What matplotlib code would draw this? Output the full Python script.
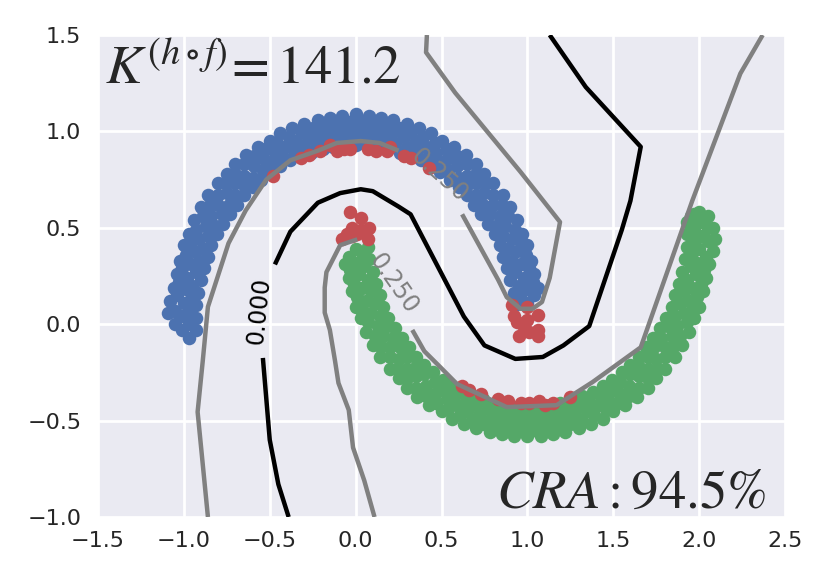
import numpy as np
import matplotlib
matplotlib.use("Agg")
import matplotlib.pyplot as plt

blue_points = [
(.93,.10),(.92,.16),(.90,.23),(.88,.29),(.86,.35),(.84,.41),(.81,.47),(.77,.52),(.73,.57),(.69,.62),(.65,.67),(.60,.71),(.55,.75),(.49,.79),(.44,.82),(.38,.85),(.32,.87),(.26,.89),(.19,.91),(.13,.92),(.06,.93),(0,.93),
(-.06,.93),(-.13,.92),(-.19,.91),(-.26,.89),(-.32,.87),(-.38,.85),(-.44,.82),(-.49,.79),(-.55,.75),(-.60,.71),(-.65,.67),(-.69,.62),(-.73,.57),(-.77,.52),(-.81,.47),(-.84,.41),(-.86,.35),(-.88,.29),(-.90,.23),(-.92,.16),(-.93,.10),(-.93,.03),(-.93,-.03),
(.96,.13),(.95,.20),(.93,.27),(.91,.33),(.89,.39),(.86,.46),(.82,.51),(.78,.57),(.74,.62),(.70,.67),(.65,.72),(.60,.76),(.54,.80),(.49,.84),(.43,.87),(.36,.90),(.30,.92),(.23,.94),(.17,.96),(.10,.96),(.03,.97),
(-.03,.97),(-.10,.96),(-.17,.96),(-.23,.94),(-.30,.92),(-.36,.90),(-.43,.87),(-.49,.84),(-.54,.80),(-.60,.76),(-.65,.72),(-.70,.67),(-.74,.62),(-.78,.57),(-.82,.51),(-.86,.46),(-.89,.39),(-.91,.33),(-.93,.27),(-.95,.20),(-.96,.13),(-.97,.07),(-.97,0),(-.97,-.07),
(1.00,.11),(.99,.18),(.98,.24),(.96,.31),(.94,.38),(.91,.44),(.87,.51),(.84,.56),(.80,.62),(.75,.68),(.70,.73),(.65,.77),(.59,.82),(.54,.86),(.47,.89),(.41,.92),(.35,.95),(.28,.97),(.21,.99),(.14,1.00),(.07,1.01),(0,1.01),
(-.07,1.01),(-.14,1.00),(-.21,.99),(-.28,.97),(-.35,.95),(-.41,.92),(-.47,.89),(-.54,.86),(-.59,.82),(-.65,.77),(-.70,.73),(-.75,.68),(-.80,.62),(-.84,.56),(-.87,.51),(-.91,.44),(-.94,.38),(-.96,.31),(-.98,.24),(-.99,.18),(-1.00,.11),(-1.01,.04),(-1.01,-.03),
(1.04,.15),(1.03,.22),(1.01,.29),(.99,.36),(.96,.43),(.93,.49),(.89,.56),(.85,.62),(.80,.67),(.76,.73),(.70,.78),(.65,.83),(.59,.87),(.53,.91),(.46,.94),(.39,.97),(.32,1.00),(.25,1.02),(.18,1.03),(.11,1.04),(.04,1.05),
(-.04,1.05),(-.11,1.04),(-.18,1.03),(-.25,1.02),(-.32,1.00),(-.39,.97),(-.46,.94),(-.53,.91),(-.59,.87),(-.65,.83),(-.70,.78),(-.76,.73),(-.80,.67),(-.85,.62),(-.89,.56),(-.93,.49),(-.96,.43),(-.99,.36),(-1.01,.29),(-1.03,.22),(-1.04,.15),(-1.05,.07),(-1.05,0),
(1.06,.19),(1.04,.26),(1.02,.33),(1.00,.41),(.97,.47),(.94,.54),(.90,.61),(.86,.67),(.80,.73),(.75,.78),(.70,.83),(.64,.88),(.57,.92),(.50,.95),(.44,.99),(.37,1.02),(.30,1.04),(.22,1.06),(.15,1.07),(.08,1.08),(0,1.09),
(-.08,1.08),(-.15,1.07),(-.22,1.06),(-.30,1.04),(-.37,1.02),(-.44,.99),(-.50,.95),(-.57,.92),(-.64,.88),(-.70,.83),(-.75,.78),(-.80,.73),(-.86,.67),(-.90,.61),(-.94,.54),(-.97,.47),(-1.00,.41),(-1.02,.33),(-1.04,.26),(-1.06,.19),(-1.08,.12),(-1.09,.06),
]
green_points = [
(.07,.40),(.08,.34),(.10,.27),(.12,.21),(.14,.15),(.16,.09),(.19,.03),(.23,-.02),(.27,-.07),(.31,-.12),(.35,-.17),(.40,-.21),(.45,-.25),(.51,-.29),(.56,-.32),(.62,-.35),(.68,-.37),(.74,-.39),(.81,-.41),(.87,-.42),(.94,-.43),(1.00,-.43),(1.06,-.43),(1.13,-.42),(1.19,-.41),(1.26,-.39),(1.32,-.37),(1.38,-.35),(1.44,-.32),(1.49,-.29),(1.55,-.25),(1.60,-.21),(1.65,-.17),(1.69,-.12),(1.73,-.07),(1.77,-.02),(1.81,.03),(1.84,.09),(1.86,.15),(1.88,.21),(1.90,.27),(1.92,.34),(1.93,.40),(1.93,.47),(1.93,.53),
(.04,.37),(.05,.30),(.07,.23),(.09,.17),(.11,.11),(.14,.04),(.18,-.01),(.22,-.07),(.26,-.12),(.30,-.17),(.35,-.22),(.40,-.26),(.46,-.30),(.51,-.34),(.57,-.37),(.64,-.40),(.70,-.42),(.77,-.44),(.83,-.46),(.90,-.46),(.97,-.47),(1.03,-.47),(1.10,-.46),(1.17,-.46),(1.23,-.44),(1.30,-.42),(1.36,-.40),(1.43,-.37),(1.49,-.34),(1.54,-.30),(1.60,-.26),(1.65,-.22),(1.70,-.17),(1.74,-.12),(1.78,-.07),(1.82,-.01),(1.86,.04),(1.89,.11),(1.91,.17),(1.93,.23),(1.95,.30),(1.96,.37),(1.97,.43),(1.97,.50),(1.97,.57),
(0,.39),(.01,.32),(.02,.26),(.04,.19),(.06,.12),(.09,.06),(.13,-.01),(.16,-.06),(.20,-.12),(.25,-.18),(.30,-.23),(.35,-.27),(.41,-.32),(.46,-.36),(.53,-.39),(.59,-.42),(.65,-.45),(.72,-.47),(.79,-.49),(.86,-.50),(.93,-.51),(1.00,-.51),(1.07,-.51),(1.14,-.50),(1.21,-.49),(1.28,-.47),(1.35,-.45),(1.41,-.42),(1.47,-.39),(1.54,-.36),(1.59,-.32),(1.65,-.27),(1.70,-.23),(1.75,-.18),(1.80,-.12),(1.84,-.06),(1.87,-.01),(1.91,.06),(1.94,.12),(1.96,.19),(1.98,.26),(1.99,.32),(2.00,.39),(2.01,.46),(2.01,.53),
(-.04,.35),(-.03,.28),(-.01,.21),(.01,.14),(.04,.07),(.07,.01),(.11,-.06),(.15,-.12),(.20,-.17),(.24,-.23),(.30,-.28),(.35,-.33),(.41,-.37),(.47,-.41),(.54,-.44),(.61,-.47),(.68,-.50),(.75,-.52),(.82,-.53),(.89,-.54),(.96,-.55),(1.04,-.55),(1.11,-.54),(1.18,-.53),(1.25,-.52),(1.32,-.50),(1.39,-.47),(1.46,-.44),(1.53,-.41),(1.59,-.37),(1.65,-.33),(1.70,-.28),(1.76,-.23),(1.80,-.17),(1.85,-.12),(1.89,-.06),(1.93,.01),(1.96,.07),(1.99,.14),(2.01,.21),(2.03,.28),(2.04,.35),(2.05,.43),(2.05,.50),
(-.06,.31),(-.04,.24),(-.02,.17),(0,.09),(.03,.03),(.06,-.04),(.10,-.11),(.14,-.17),(.20,-.23),(.25,-.28),(.30,-.33),(.36,-.38),(.43,-.42),(.50,-.45),(.56,-.49),(.63,-.52),(.70,-.54),(.78,-.56),(.85,-.57),(.92,-.58),(1.00,-.58),(1.08,-.58),(1.15,-.57),(1.22,-.56),(1.30,-.54),(1.37,-.52),(1.44,-.49),(1.50,-.45),(1.57,-.42),(1.64,-.38),(1.70,-.33),(1.75,-.28),(1.80,-.23),(1.86,-.17),(1.90,-.11),(1.94,-.04),(1.97,.03),(2.00,.09),(2.02,.17),(2.04,.24),(2.06,.31),(2.08,.38),(2.09,.44),(2.08,.50),(2.05,.56),(2.00,.58),(1.95,.56),
]
red_points = [
(-.48,.77),(-.32,.86),(-.27,.88),(-.21,.90),(-.15,.93),(-.11,.90),(-.07,.91),(-.03,.91),(.07,.91),(.12,.90),(.18,.90),(.20,.92),(.28,.87),(.32,.86),(.43,.81),
(-.03,.58),(.03,.55),(.08,.50),(-.02,.50),(-.05,.47),(.03,.49),(-.08,.44),(.07,.44),(.01,.47),(-.02,.46),
(.91,.10),(1.00,.09),(.92,.04),(1.06,.05),(1.00,.02),(.94,.01),(.97,0),(1.06,-.03),(1.01,-.04),(.95,-.06),(1.06,-.06),
(.62,-.32),(.66,-.34),(.73,-.36),(.83,-.39),(.89,-.40),(.96,-.41),(1.01,-.41),(1.07,-.40),(1.10,-.42),(1.15,-.41),(1.25,-.38),
]
black_upper = [(-.47,.31),(-.38,.48),(-.22,.63),(-.09,.68),(.03,.70),(.10,.69),(.25,.61),(.32,.57),(.63,.04),(.75,-.11),(.93,-.18),(1.09,-.17),(1.21,-.11),(1.36,-.01),(1.55,.49),(1.60,.64),(1.66,.92),(1.34,1.23),(1.13,1.50)]
black_lower = [(-.54,-.175),(-.50,-.60),(-.45,-.83),(-.39,-1.0)]
gray_a1 = [(.415,1.5),(.41,1.41),(.58,1.2),(.96,.79),(1.19,.53),(1.13,.24),(1.085,.115),(1.03,.08),(.96,.08),(.88,.14),(.83,.23),(.62,.57)]
gray_a2 = [(.25,.90),(.14,.94),(.03,.95),(-.11,.94),(-.22,.90),(-.38,.85),(-.52,.75),(-.64,.59),(-.74,.42),(-.86,.09),(-.89,-.19),(-.92,-.455),(-.86,-1.0)]
gray_b1 = [(.01,.44),(-.09,.41),(-.17,.27),(-.18,.19),(-.18,.06),(-.15,-.03),(-.12,-.19),(-.10,-.305),(-.04,-.445),(-.015,-.64),(.05,-.81),(.11,-1.0)]
gray_b2 = [(.33,-.03),(.40,-.14),(.49,-.22),(.59,-.31),(.88,-.43),(1.17,-.42),(1.38,-.30),(1.66,-.12),(1.96,.64),(2.24,1.30),(2.37,1.5)]
x_ticks = [-1.5,-1.0,-0.5,0.0,0.5,1.0,1.5,2.0,2.5]
y_ticks = [-1.0,-0.5,0.0,0.5,1.0,1.5]

plt.rcParams['mathtext.fontset'] = 'stix'
fig = plt.figure(figsize=(8.3,5.81), dpi=100)
ax = fig.add_axes([98/830, (581-517)/581, (785-98)/830, (517-35)/581])
ax.set_facecolor('#EAEAF2')
ax.grid(True, color='white', lw=2.0)
ax.set_axisbelow(True)
for s in ax.spines.values():
    s.set_visible(False)
ax.tick_params(axis='both', length=0, labelsize=16, labelcolor='#262626')
ax.tick_params(axis='x', pad=10)
ax.tick_params(axis='y', pad=12)

def xy(p):
    a = np.array(p, dtype=float)
    return a[:,0], a[:,1]

for pts, c in [(blue_points,'#4C72B0'),(green_points,'#55A868'),(red_points,'#C44E52')]:
    x, y = xy(pts)
    ax.scatter(x, y, s=95, c=c, linewidths=0, zorder=3)
for pts in (black_upper, black_lower):
    x, y = xy(pts)
    ax.plot(x, y, color='black', lw=3.2, zorder=4, solid_capstyle='butt')
for pts in (gray_a1, gray_a2, gray_b1, gray_b2):
    x, y = xy(pts)
    ax.plot(x, y, color='#808080', lw=3.2, zorder=4, solid_capstyle='butt')

ax.text(-.56, .07, '0.000', color='black', fontsize=17, rotation=84, ha='center', va='center', zorder=5)
ax.text(.49, .77, '0.250', color='#808080', fontsize=17, rotation=-42, ha='center', va='center', zorder=5)
ax.text(.22, .21, '0.250', color='#808080', fontsize=17, rotation=-55, ha='center', va='center', zorder=5)
ax.text(-1.46, 1.25, r'$K^{(h\circ f)}\!=141.2$', fontsize=39.5, color='#262626', ha='left', va='baseline', zorder=6)
ax.text(2.39, -.953, r'$CRA:94.5\%$', fontsize=39.5, color='#262626', ha='right', va='baseline', zorder=6)

ax.set_xlim(-1.5,2.5)
ax.set_ylim(-1.0,1.5)
ax.set_xticks(x_ticks)
ax.set_yticks(y_ticks)
fig.savefig('out.png', dpi=100)
